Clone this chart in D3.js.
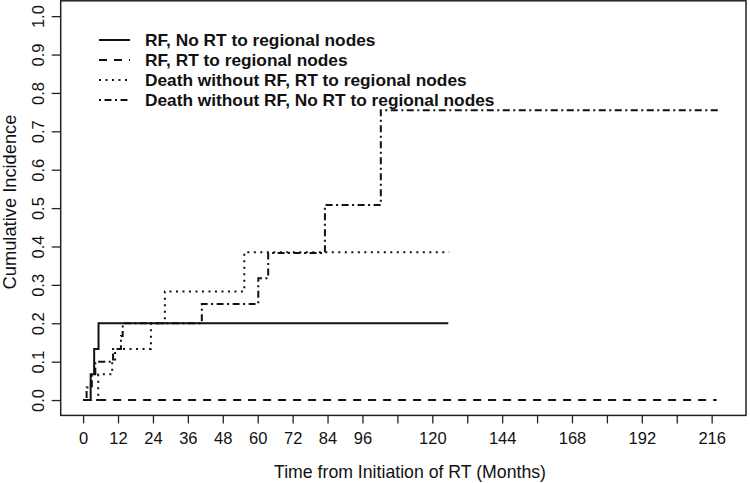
<!DOCTYPE html>
<html>
<head>
<meta charset="utf-8">
<script src="https://cdn.jsdelivr.net/npm/d3@7"></script>
<style>
html,body{margin:0;padding:0;background:#fff;}
svg{display:block;}
text{font-family:"Liberation Sans",Arial,sans-serif;fill:#111;}
</style>
</head>
<body>
<svg id="chart" width="750" height="483"></svg>
<script>
// ---- data ----
const seriesNames = [
  "RF, No RT to regional nodes",
  "RF, RT to regional nodes",
  "Death without RF, RT to regional nodes",
  "Death without RF, No RT to regional nodes"
];
// [month, cumulative incidence] step points
const rfNoRT = [[0,0],[2.6,0.067],[3.8,0.133],[5.3,0.2],[125.5,0.2]];
const rfRT = [[0,0],[217.7,0]];
const deathRT = [[0,0],[5.2,0.067],[10,0.1],[11,0.133],[23.3,0.2],[28.1,0.283],[55.4,0.385],[125.8,0.385]];
const deathNoRT = [[0,0],[1.2,0.033],[3,0.067],[4.2,0.1],[10.3,0.133],[13,0.167],[13.6,0.2],[40.8,0.25],[60.2,0.317],[63.6,0.383],[83.1,0.508],[102.3,0.755],[219,0.755]];
const xTicks = [0,12,24,36,48,60,72,84,96,108,120,132,144,156,168,180,192,204,216];
const xTickLabels = [0,12,24,36,48,60,72,84,96,120,144,168,192,216];
const yTicks = [0,0.1,0.2,0.3,0.4,0.5,0.6,0.7,0.8,0.9,1.0];
const xTitle = "Time from Initiation of RT (Months)";
const yTitle = "Cumulative Incidence";

// ---- layout ----
const svg = d3.select("#chart");
const L = 60.7, R = 746, T = 0.8, B = 415.4;
const x = d3.scaleLinear().domain([-7.7, 227.8]).range([L, R]);
const y = d3.scaleLinear().domain([-0.04, 1.04]).range([B, T]);

const styles = [
  {dash: null},
  {dash: "8,7"},
  {dash: "2,4.5"},
  {dash: "2,3.5,7,3.5"}
];
const data = [rfNoRT, rfRT, deathRT, deathNoRT];

// curves
const line = d3.line().x(d => x(d[0])).y(d => y(d[1])).curve(d3.curveStepAfter);
svg.append("g").selectAll("path").data(data).join("path")
  .attr("d", line)
  .attr("fill", "none")
  .attr("stroke", "#111")
  .attr("stroke-width", 2)
  .attr("stroke-dasharray", (d,i) => styles[i].dash);

// box
svg.append("rect").attr("x", L).attr("y", T).attr("width", R-L).attr("height", B-T)
  .attr("fill", "none").attr("stroke", "#222").attr("stroke-width", 1.5);

// x axis
const xa = svg.append("g").attr("transform", `translate(0,${B})`)
  .call(d3.axisBottom(x).tickValues(xTicks).tickSize(8).tickPadding(9)
    .tickFormat(d => xTickLabels.includes(d) ? d : ""));
xa.select(".domain").remove();
xa.selectAll(".tick line").attr("stroke", "#222").attr("stroke-width", 1.3);
xa.selectAll(".tick text").style("font-size", "16.5px").attr("fill", "#111");

// y axis
const ya = svg.append("g").attr("transform", `translate(${L},0)`)
  .call(d3.axisLeft(y).tickValues(yTicks).tickSize(9).tickFormat(d3.format(".1f")));
ya.select(".domain").remove();
ya.selectAll(".tick line").attr("stroke", "#222").attr("stroke-width", 1.3);
ya.selectAll(".tick text").style("font-size", "16.5px").attr("fill", "#111")
  .attr("x", null).attr("dy", null)
  .attr("text-anchor", "middle")
  .attr("transform", "translate(-16.5,0) rotate(-90)");

// titles
svg.append("text").attr("x", 410).attr("y", 478)
  .attr("text-anchor", "middle").style("font-size", "17.7px").text(xTitle);
svg.append("text").attr("transform", `translate(16,202) rotate(-90)`)
  .attr("text-anchor", "middle").style("font-size", "18.3px").text(yTitle);

// legend
const lg = svg.append("g");
const rows = [40, 60, 80, 100];
seriesNames.forEach((name, i) => {
  lg.append("line").attr("x1", 99).attr("x2", 130).attr("y1", rows[i]).attr("y2", rows[i])
    .attr("stroke", "#111").attr("stroke-width", 2).attr("stroke-dasharray", styles[i].dash);
  lg.append("text").attr("x", 145).attr("y", rows[i]).attr("dy", "0.35em")
    .style("font-size", "17.3px").style("font-weight", "bold").text(name);
});
</script>
</body>
</html>
